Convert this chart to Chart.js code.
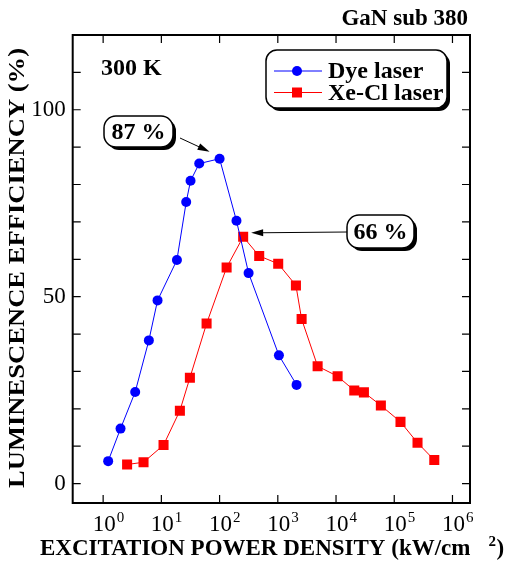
<!DOCTYPE html>
<html>
<head>
<meta charset="utf-8">
<script src="https://cdn.jsdelivr.net/npm/chart.js@4.4.1/dist/chart.umd.min.js"></script>
<style>
body{margin:0;background:#fff}
#wrap{width:505px;height:568px;position:relative}
</style>
</head>
<body>
<div id="wrap"><canvas id="c"></canvas></div>
<script>
// values
const dyeX=[1.22,1.99,3.55,6.1,8.6,18.5,26.7,31.7,44.7,100,195,315,1045,2100]
const dyeY=[6.0,14.7,24.5,38.3,49.0,59.8,75.3,81.0,85.6,86.9,70.3,56.3,34.3,26.4]
const xeX=[2.58,4.94,10.9,20.8,30.9,59.8,132,254,479,1016,2047,2564,4830,10640,20560,30130,58900,128000,251000,487000]
const xeY=[5.1,5.7,10.3,19.5,28.3,42.8,57.8,66.0,60.9,58.8,53.0,44.0,31.4,28.7,24.9,24.4,20.9,16.5,10.9,6.3]
const xExp=[0,1,2,3,4,5,6]
const yTicks=[0,50,100]
const yMinor=[0,10,20,30,40,50,60,70,80,90,100,110]
const seriesNames=['Dye laser','Xe-Cl laser']

const SERIF='"Liberation Serif","Times New Roman",serif'

function roundBox(ctx,x,y,w,h,r){
    // shadow then box
    ctx.fillStyle='#000'
    ctx.beginPath(); ctx.roundRect(x+3,y+3,w,h,r); ctx.fill()
    ctx.fillStyle='#fff'; ctx.strokeStyle='#000'; ctx.lineWidth=1.5
    ctx.beginPath(); ctx.roundRect(x,y,w,h,r); ctx.fill(); ctx.stroke()
}
function arrow(ctx,x1,y1,x2,y2){
    const a=Math.atan2(y2-y1,x2-x1)
    ctx.strokeStyle='#000'; ctx.fillStyle='#000'; ctx.lineWidth=1
    ctx.beginPath(); ctx.moveTo(x1,y1); ctx.lineTo(x2-8*Math.cos(a),y2-8*Math.sin(a)); ctx.stroke()
    ctx.beginPath()
    ctx.moveTo(x2,y2)
    ctx.lineTo(x2-12*Math.cos(a)+3.5*Math.sin(a),y2-12*Math.sin(a)-3.5*Math.cos(a))
    ctx.lineTo(x2-12*Math.cos(a)-3.5*Math.sin(a),y2-12*Math.sin(a)+3.5*Math.cos(a))
    ctx.closePath(); ctx.fill()
}

const decor={
    id:'decor',
    afterDraw(chart){
        const {ctx,chartArea:a,scales}=chart
        const xs=scales.x, ys=scales.y
        ctx.save()
        // frame
        ctx.strokeStyle='#000'; ctx.lineWidth=2
        ctx.strokeRect(a.left,a.top,a.right-a.left,a.bottom-a.top)
        ctx.lineWidth=1.2
        ctx.beginPath()
        xExp.forEach(e=>{
            const px=xs.getPixelForValue(10**e)
            ctx.moveTo(px,a.bottom); ctx.lineTo(px,a.bottom-8)
            ctx.moveTo(px,a.top); ctx.lineTo(px,a.top+8)
        })
        yMinor.forEach(v=>{
            const py=ys.getPixelForValue(v)
            ctx.moveTo(a.left,py); ctx.lineTo(a.left+8,py)
            ctx.moveTo(a.right,py); ctx.lineTo(a.right-8,py)
        })
        ctx.stroke()
        // x tick labels 10^n
        ctx.fillStyle='#000'; ctx.textBaseline='alphabetic'
        xExp.forEach(e=>{
            const px=xs.getPixelForValue(10**e)
            ctx.font='23px '+SERIF
            ctx.textAlign='center'
            const w=ctx.measureText('10').width
            ctx.fillText('10',px+1,531)
            ctx.font='15px '+SERIF
            ctx.textAlign='left'
            ctx.fillText(String(e),px+1+w/2+1,522)
        })
        // axis titles
        ctx.font='bold 23px '+SERIF
        ctx.textAlign='left'
        const t1='EXCITATION POWER DENSITY (kW/cm'
        ctx.fillText(t1,40,555)
        const w1=ctx.measureText(t1).width
        ctx.font='bold 15px '+SERIF
        ctx.fillText('2',40+w1+18,546)
        ctx.font='bold 23px '+SERIF
        ctx.fillText(')',40+w1+26,555)

        ctx.save()
        ctx.translate(18,268); ctx.rotate(-Math.PI/2)
        const t2='LUMINESCENCE EFFICIENCY (%)'
        const w2=ctx.measureText(t2).width
        ctx.scale(440/w2,1)
        ctx.textAlign='center'; ctx.textBaseline='middle'
        ctx.fillText(t2,0,0)
        ctx.restore()

        // header texts
        ctx.font='bold 23px '+SERIF
        ctx.textAlign='right'; ctx.textBaseline='alphabetic'
        ctx.fillText('GaN sub 380',468,25)
        ctx.font='bold 24px '+SERIF
        ctx.textAlign='left'
        ctx.fillText('300 K',101,75)

        // legend
        roundBox(ctx,266,50,181,58,11)
        chart.data.datasets.forEach((ds,i)=>{
            const y=71+i*21.5
            ctx.strokeStyle=ds.borderColor; ctx.lineWidth=1
            ctx.beginPath(); ctx.moveTo(274,y); ctx.lineTo(322,y); ctx.stroke()
            ctx.fillStyle=ds.backgroundColor
            if(ds.pointStyle==='rect'){ ctx.fillRect(292,y-5,10,10) }
            else { ctx.beginPath(); ctx.arc(297,y,5,0,Math.PI*2); ctx.fill() }
            ctx.fillStyle='#000'; ctx.font='bold 24px '+SERIF
            ctx.textAlign='left'; ctx.textBaseline='middle'
            ctx.fillText(ds.label,328,y+1)
        })

        // annotations
        const pk1x=xs.getPixelForValue(dyeX[9]), pk1y=ys.getPixelForValue(dyeY[9])
        const pk2x=xs.getPixelForValue(xeX[7]), pk2y=ys.getPixelForValue(xeY[7])
        roundBox(ctx,104,116,69,31,12)
        ctx.fillStyle='#000'; ctx.font='bold 24px '+SERIF
        ctx.textAlign='center'; ctx.textBaseline='middle'
        ctx.fillText('87 %',138.5,132.5)
        arrow(ctx,180,138,pk1x-10,pk1y-7)
        roundBox(ctx,347,215,67,33,12)
        ctx.fillStyle='#000'; ctx.font='bold 24px '+SERIF
        ctx.textAlign='center'; ctx.textBaseline='middle'
        ctx.fillText('66 %',380.5,232.5)
        arrow(ctx,347,232,pk2x+8,pk2y-4)
        ctx.restore()
    }
}

new Chart(document.getElementById('c'),{
    type:'line',
    data:{
        datasets:[{
            label:seriesNames[0],
            data:dyeX.map((x,i)=>({x:x,y:dyeY[i]})),
            borderColor:'#0000ff',
            backgroundColor:'#0000ff',
            borderWidth:1,
            pointStyle:'circle',
            pointRadius:5,
            pointBorderWidth:0,
            tension:0
        },{
            label:seriesNames[1],
            data:xeX.map((x,i)=>({x:x,y:xeY[i]})),
            borderColor:'#ff0000',
            backgroundColor:'#ff0000',
            borderWidth:1,
            pointStyle:'rect',
            pointRadius:7.1,
            pointBorderWidth:0,
            tension:0
        }]
    },
    options:{
        responsive:true,
        maintainAspectRatio:false,
        animation:false,
        layout:{padding:{left:0,right:35,top:35,bottom:0}},
        plugins:{legend:{display:false},tooltip:{enabled:false}},
        scales:{
            x:{
                type:'logarithmic',
                min:0.3,max:2e6,
                grid:{display:false,drawTicks:false},
                border:{display:false},
                ticks:{display:false},
                afterFit(s){ s.height=65 }
            },
            y:{
                min:-5.2,max:120,
                grid:{display:false,drawTicks:false},
                border:{display:false},
                afterBuildTicks(s){ s.ticks=yTicks.map(v=>({value:v})) },
                ticks:{color:'#000',padding:7,font:{family:SERIF,size:23}},
                afterFit(s){ s.width=72.7 }
            }
        }
    },
    plugins:[decor]
})
</script>
</body>
</html>
